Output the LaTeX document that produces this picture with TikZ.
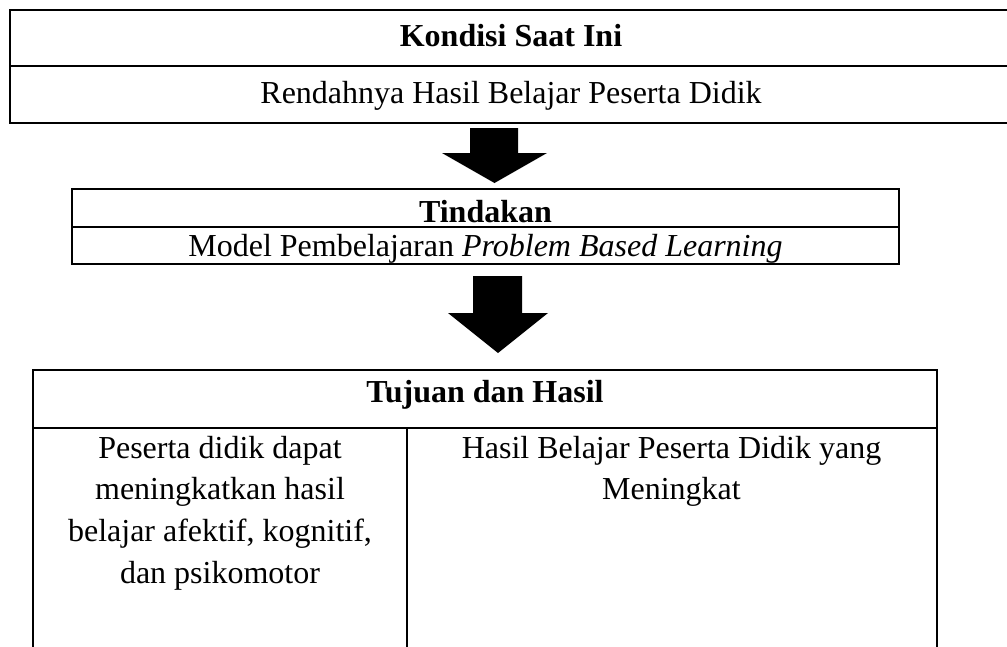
\documentclass[tikz,border=0pt]{standalone}
\usepackage{fontspec}
\setmainfont{Liberation Serif}
\begin{document}
\begin{tikzpicture}[x=1pt,y=-1pt,
  rule/.style={line width=1.8pt},
  txt/.style={anchor=base,inner sep=0pt,font=\fontsize{32}{38}\selectfont},
  hd/.style={txt,font=\fontsize{32}{38}\selectfont\bfseries}]
  \useasboundingbox (0,0) rectangle (1007,646);

  % kondisi saat ini
  \draw[rule] (1012,10) -- (10,10) -- (10,123) -- (1012,123);
  \draw[rule] (10,66) -- (1012,66);
  \node[hd] (kondisi) at (511,46) {Kondisi Saat Ini};
  \node[txt] (rendah) at (511,103) {Rendahnya Hasil Belajar Peserta Didik};

  \fill (470,128) -- (518,128) -- (518,153) -- (547,153) -- (494.5,183)
    -- (442,153) -- (470,153) -- cycle;

  % tindakan
  \draw[rule] (72,189) rectangle (899,264);
  \draw[rule] (72,227) -- (899,227);
  \node[hd] (tindakan) at (485.5,222) {Tindakan};
  \node[txt] (model) at (485.5,256) {Model Pembelajaran \textit{Problem Based Learning}};

  \fill (473,276) -- (522,276) -- (522,313) -- (548,313) -- (498,353)
    -- (448,313) -- (473,313) -- cycle;

  % tujuan dan hasil
  \draw[rule] (33,660) -- (33,370) -- (937,370) -- (937,660);
  \draw[rule] (33,428) -- (937,428);
  \draw[rule] (407,428) -- (407,660);
  \node[hd] (tujuan) at (485,402) {Tujuan dan Hasil};
  \foreach \t [count=\i] in {Peserta didik dapat, meningkatkan hasil,
      {belajar afektif, kognitif,}, dan psikomotor}
    \node[txt] (kiri\i) at ({220},{458+41.7*(\i-1)}) {\t};
  \node[txt] (kanan1) at (671.5,458) {Hasil Belajar Peserta Didik yang};
  \node[txt] (kanan2) at (671.5,499.7) {Meningkat};
\end{tikzpicture}
\end{document}
